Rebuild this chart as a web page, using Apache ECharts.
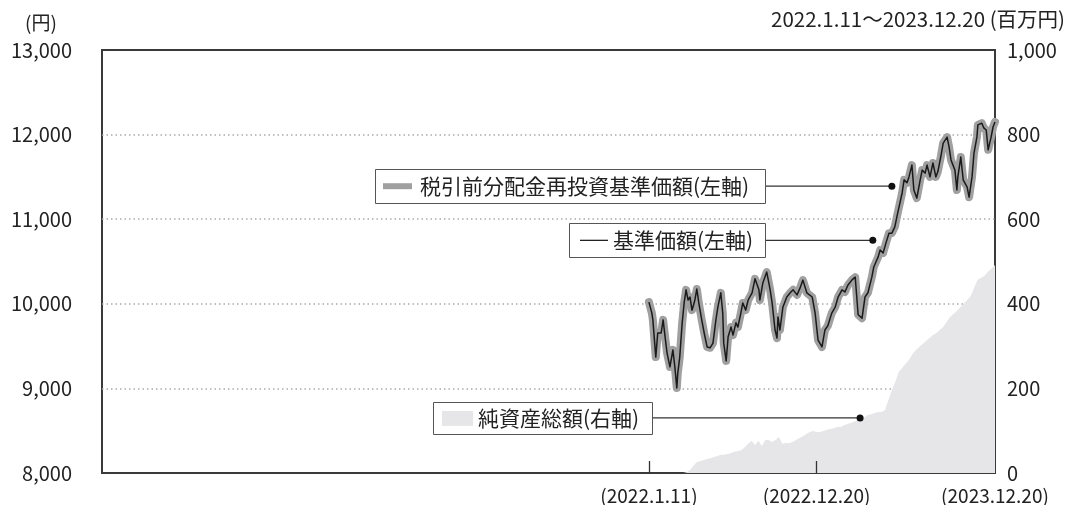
<!DOCTYPE html>
<html><head><meta charset="utf-8">
<script src="https://cdn.jsdelivr.net/npm/echarts@6/dist/echarts.min.js"></script>
<style>html,body{margin:0;padding:0;background:#fff}#c{width:1069px;height:505px}</style>
</head><body><div id="c"></div>
<script>
// ---- data ----
// days since 2022-01-11 for the price series
const priceDays = [
0, 6, 8, 14, 18, 25, 29, 33, 37, 43, 49, 53, 57, 59, 63, 68, 72, 76, 80, 84,
88, 90, 94, 98, 102, 108, 113, 119, 125, 131, 137, 141, 147, 151, 153, 158, 162, 168, 172, 178,
182, 188, 192, 198, 203, 211, 217, 221, 225, 227, 233, 241, 248, 252, 258, 262, 264, 268, 274, 282,
289, 295, 303, 309, 315, 323, 334, 340, 346, 354, 360, 366, 374, 381, 387, 395, 401, 407, 415, 422,
428, 436, 442, 448, 456, 460, 469, 473, 479, 485, 491, 497, 503, 509, 518, 522, 528, 532, 538, 542,
548, 555, 559, 565, 569, 575, 581, 587, 591, 597, 602, 610, 614, 618, 622, 626, 630, 632, 638, 643,
651, 655, 661, 665, 671, 673, 681, 685, 690, 694, 700, 704, 708
];
const navValues = [
10020, 9890, 9810, 9370, 9655, 9655, 9810, 9610, 9420, 9255, 9455, 9255, 9005, 9180, 9370, 9775, 10010, 10165, 10045, 10080,
9925, 9960, 10045, 10175, 10010, 9810, 9655, 9490, 9480, 9535, 9810, 9960, 10130, 9890, 9535, 9325, 9610, 9725, 9630, 9775,
9725, 9890, 10010, 9925, 10045, 10130, 10295, 10315, 10165, 10045, 10245, 10375, 10165, 10010, 9690, 9595, 9845, 9690, 9960, 10080,
10130, 10165, 10105, 10185, 10280, 10130, 10080, 9890, 9570, 9490, 9690, 9740, 9890, 9960, 10080, 10165, 10140, 10220, 10280, 10315,
9870, 9830, 10080, 10130, 10315, 10435, 10555, 10635, 10600, 10720, 10835, 10835, 10910, 11075, 11310, 11465, 11430, 11500, 11640, 11345,
11250, 11465, 11580, 11545, 11640, 11500, 11665, 11500, 11560, 11735, 11900, 11970, 11855, 11700, 11700, 11580, 11345, 11500, 11735, 11465,
11380, 11260, 11500, 11780, 11970, 12115, 12135, 12080, 12055, 11820, 11970, 12090, 12150
];
const reinvestValues = [
10020, 9890, 9810, 9370, 9655, 9655, 9810, 9610, 9420, 9255, 9455, 9255, 9005, 9180, 9370, 9775, 10010, 10165, 10045, 10080,
9925, 9960, 10045, 10175, 10010, 9810, 9655, 9490, 9480, 9535, 9810, 9960, 10130, 9890, 9535, 9325, 9610, 9725, 9630, 9775,
9725, 9890, 10010, 9925, 10045, 10130, 10295, 10315, 10165, 10045, 10245, 10375, 10165, 10010, 9690, 9595, 9845, 9690, 9960, 10080,
10130, 10165, 10105, 10185, 10280, 10130, 10080, 9890, 9570, 9490, 9690, 9740, 9890, 9960, 10080, 10165, 10140, 10220, 10280, 10315,
9870, 9830, 10080, 10130, 10315, 10435, 10555, 10635, 10600, 10720, 10835, 10835, 10910, 11075, 11310, 11465, 11430, 11500, 11640, 11345,
11250, 11465, 11580, 11545, 11640, 11500, 11665, 11500, 11560, 11735, 11900, 11970, 11855, 11700, 11700, 11580, 11345, 11500, 11735, 11465,
11380, 11260, 11500, 11780, 11970, 12115, 12135, 12080, 12055, 11820, 11970, 12090, 12150
];
// days since 2022-01-11 for net assets (weekly)
const assetDays = [
0, 7, 14, 21, 28, 35, 42, 49, 56, 63, 70, 77, 84, 91, 98, 105, 112, 119, 126, 133,
140, 147, 154, 161, 168, 175, 182, 189, 196, 203, 210, 217, 224, 231, 238, 245, 252, 259, 266, 273,
280, 287, 294, 301, 308, 315, 322, 329, 336, 343, 350, 357, 364, 371, 378, 385, 392, 399, 406, 413,
420, 427, 434, 441, 448, 455, 462, 469, 476, 483, 490, 497, 504, 511, 518, 525, 532, 539, 546, 553,
560, 567, 574, 581, 588, 595, 602, 609, 616, 623, 630, 637, 644, 651, 658, 665, 672, 679, 686, 693,
700, 708
];
const assetValues = [
0, 0, 0, 0, 0, 0, 0, 0, 0, 0, 0,
2, 7, 17, 26, 28, 31, 33, 35, 38, 40,
43, 43, 45, 47, 50, 52, 54, 61, 69, 76,
66, 76, 64, 78, 78, 73, 78, 85, 69, 71,
71, 73, 78, 83, 87, 92, 97, 99, 97, 97,
99, 102, 104, 106, 109, 109, 113, 116, 118, 121,
125, 130, 132, 137, 139, 142, 144, 144, 149, 173,
196, 215, 239, 248, 258, 267, 281, 291, 298, 305,
312, 319, 326, 331, 338, 345, 357, 369, 376, 383,
392, 400, 409, 418, 437, 456, 461, 466, 475, 482,
492
];
const startDate = [2022,1,11];
const tickDates = [[2022,1,11],[2022,12,20],[2023,12,20]];
const axisMinDate = [2018,12,19];
const axisMaxDate = [2023,12,20];
const leftAxis = {min: 8000, max: 13000, interval: 1000};
const rightAxis = {min: 0, max: 1000, interval: 200};
const labels = {
  reinvest: '税引前分配金再投資基準価額(左軸)',
  nav: '基準価額(左軸)',
  assets: '純資産総額(右軸)',
  leftUnit: '(円)',
  rightTitle: '2022.1.11～2023.12.20 (百万円)'
};
// annotation anchors in data space
const anchorReinvest = [[2023,5,23], 11390];
const anchorNav = [[2023,4,14], 10750];
const anchorAssets = [[2023,3,19], 135];

// ---- helpers ----
const ts = a => new Date(a[0], a[1]-1, a[2]).getTime();
const dayTs = d => new Date(startDate[0], startDate[1]-1, startDate[2] + d).getTime();
const FONT = '"Noto Sans CJK JP", "Noto Sans", sans-serif';
const fmtDate = v => { const d = new Date(v); return '(' + d.getFullYear() + '.' + (d.getMonth()+1) + '.' + d.getDate() + ')'; };

const chart = echarts.init(document.getElementById('c'), null, {renderer: 'canvas'});
chart.setOption({
  animation: false,
  backgroundColor: '#fff',
  grid: {left: 102, right: 74, top: 50, bottom: 32, show: true, borderColor: '#3a3a3a', borderWidth: 2, backgroundColor: 'transparent'},
  xAxis: {
    type: 'value', min: ts(axisMinDate), max: ts(axisMaxDate), scale: true, z: 5,
    axisLine: {show: false},
    splitLine: {show: false},
    axisTick: {show: true, inside: true, length: 12, lineStyle: {color: '#333', width: 1.3},
      customValues: tickDates.slice(0, 2).map(ts)},
    axisLabel: {show: true, margin: 13, color: '#222', fontSize: 19, fontFamily: FONT,
      customValues: tickDates.map(ts), formatter: fmtDate, showMinLabel: true, showMaxLabel: true}
  },
  yAxis: [
    {type: 'value', min: leftAxis.min, max: leftAxis.max, interval: leftAxis.interval,
      axisLine: {show: false}, axisTick: {show: false},
      axisLabel: {margin: 30, color: '#222', fontSize: 20, fontFamily: FONT, formatter: v => v.toLocaleString('en-US')},
      splitLine: {show: true, showMinLine: false, showMaxLine: false, lineStyle: {color: '#aaa', width: 1.5, type: [1.5, 3]}}},
    {type: 'value', min: rightAxis.min, max: rightAxis.max, interval: rightAxis.interval,
      axisLine: {show: false}, axisTick: {show: false}, splitLine: {show: false},
      axisLabel: {margin: 12, color: '#222', fontSize: 20, fontFamily: FONT, align: 'left', formatter: v => v.toLocaleString('en-US')}}
  ],
  series: [
    {name: labels.assets, type: 'line', yAxisIndex: 1, symbol: 'none', silent: true,
      lineStyle: {width: 0}, areaStyle: {color: '#e6e6e8', opacity: 1},
      data: assetDays.map((d, i) => [dayTs(d), assetValues[i]])},
    {name: labels.reinvest, type: 'line', symbol: 'none', silent: true,
      lineStyle: {width: 8, color: '#a0a0a0', cap: 'round', join: 'round'},
      data: priceDays.map((d, i) => [dayTs(d), reinvestValues[i]])},
    {name: labels.nav, type: 'line', symbol: 'none', silent: true,
      lineStyle: {width: 1.5, color: '#1a1a1a', join: 'round'},
      data: priceDays.map((d, i) => [dayTs(d), navValues[i]])}
  ]
});

// ---- annotations ----
const p1 = chart.convertToPixel({xAxisIndex: 0, yAxisIndex: 0}, [ts(anchorReinvest[0]), anchorReinvest[1]]);
const p2 = chart.convertToPixel({xAxisIndex: 0, yAxisIndex: 0}, [ts(anchorNav[0]), anchorNav[1]]);
const p3 = chart.convertToPixel({xAxisIndex: 0, yAxisIndex: 1}, [ts(anchorAssets[0]), anchorAssets[1]]);
const txt = (text, x, y, align, size) => ({type: 'text', z: 100, style: {text, x, y, align: align, verticalAlign: 'middle', textAlign: align, textVerticalAlign: 'middle', fontSize: size || 19, fontFamily: FONT, fill: '#222'}});
function box(x1, x2, cy, h, dot) {
  return [
    {type: 'line', z: 90, shape: {x1: x2, y1: cy, x2: dot[0], y2: cy}, style: {stroke: '#333', lineWidth: 1.2}},
    {type: 'circle', z: 91, shape: {cx: dot[0], cy: cy, r: 3.5}, style: {fill: '#111'}},
    {type: 'rect', z: 92, shape: {x: x1 + 0.5, y: Math.round(cy - h/2) + 0.5, width: x2 - x1, height: h}, style: {fill: '#fff', stroke: '#555', lineWidth: 1}}
  ];
}
const g = [];
g.push(txt(labels.leftUnit, 41, 23, 'center', 19));
g.push(txt(labels.rightTitle, 1065, 19, 'right', 20.5));
g.push(...box(375, 765, p1[1], 34, p1));
g.push({type: 'rect', z: 95, shape: {x: 383, y: p1[1] - 3, width: 29, height: 6}, style: {fill: '#a0a0a0'}});
g.push(txt(labels.reinvest, 420, p1[1], 'left', 21));
g.push(...box(569, 765, p2[1], 34, p2));
g.push({type: 'line', z: 95, shape: {x1: 580, y1: p2[1], x2: 608, y2: p2[1]}, style: {stroke: '#222', lineWidth: 1.3}});
g.push(txt(labels.nav, 613, p2[1], 'left', 21));
g.push(...box(433, 652, p3[1] + 2, 32, [p3[0], p3[1] + 2]));
g.push({type: 'rect', z: 95, shape: {x: 442, y: p3[1] - 5, width: 31, height: 15}, style: {fill: '#e6e6e8'}});
g.push(txt(labels.assets, 478, p3[1] + 2, 'left', 21));
chart.setOption({graphic: g});
</script>
</body></html>
